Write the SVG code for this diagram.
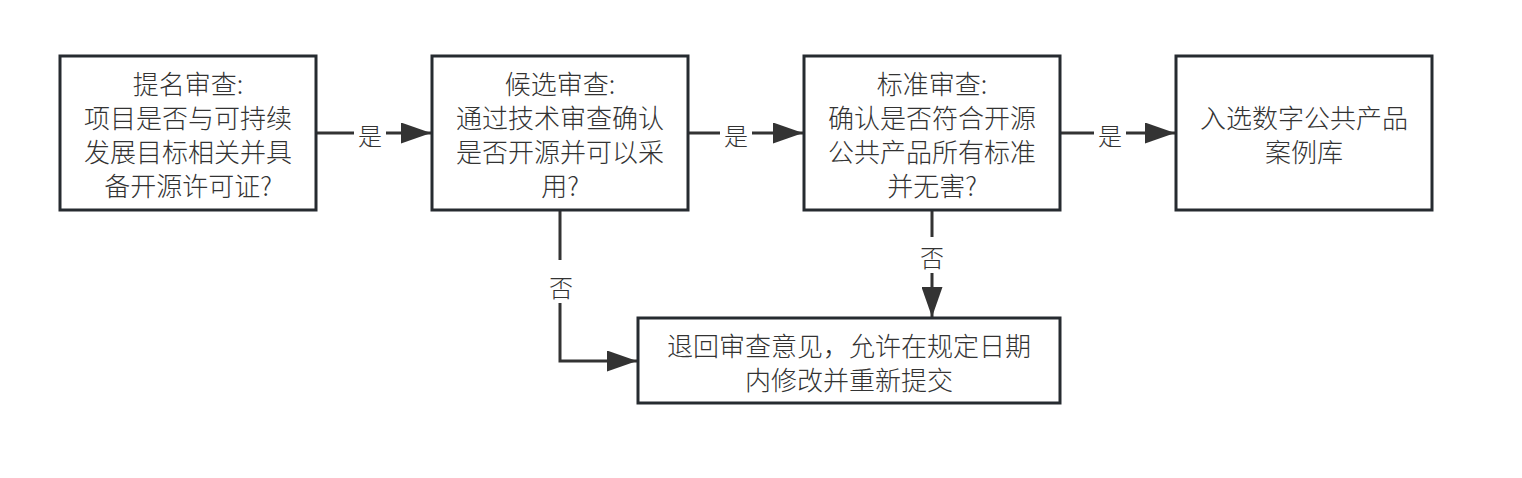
<svg xmlns="http://www.w3.org/2000/svg" width="1522" height="478" viewBox="0 0 1522 478">
<style>
.box{fill:#fff;stroke:#262b30;stroke-width:3}
.t{font-family:"Noto Sans CJK SC","Noto Sans",sans-serif;font-size:26px;font-weight:300;fill:#333;text-anchor:middle;dominant-baseline:central}
.lbl{font-family:"Noto Sans CJK SC","Noto Sans",sans-serif;font-size:24px;font-weight:300;fill:#333;text-anchor:middle;dominant-baseline:central}
.ln{fill:none;stroke:#333;stroke-width:3}
</style>
<defs>
<marker id="ah" markerWidth="10" markerHeight="7" refX="10" refY="3.5" orient="auto" markerUnits="strokeWidth" viewBox="0 0 10 7"><path d="M0,0 L10,3.5 L0,7 z" fill="#333"/></marker>
</defs>
<rect width="1522" height="478" fill="#fff"/>
<g id="connectors">
<path class="ln" d="M317,133 H354 M386,133 H431" marker-end="url(#ah)"/>
<text class="lbl" x="370" y="134">是</text>
<path class="ln" d="M689,133 H720 M752,133 H803" marker-end="url(#ah)"/>
<text class="lbl" x="736" y="134">是</text>
<path class="ln" d="M1061,133 H1094 M1126,133 H1175" marker-end="url(#ah)"/>
<text class="lbl" x="1110" y="134">是</text>
<path class="ln" d="M932,211 V237 M932,273 V317" marker-end="url(#ah)"/>
<text class="lbl" x="932" y="256">否</text>
<path class="ln" d="M560,211 V260 M560,303 V361 H637" marker-end="url(#ah)"/>
<text class="lbl" x="561" y="286">否</text>
</g>
<g id="n1">
<rect class="box" x="60" y="56" width="256" height="154"/>
<text class="t" x="188" y="82">提名审查:</text>
<text class="t" x="188" y="116">项目是否与可持续</text>
<text class="t" x="188" y="150">发展目标相关并具</text>
<text class="t" x="188" y="184">备开源许可证?</text>
</g>
<g id="n2">
<rect class="box" x="432" y="56" width="256" height="154"/>
<text class="t" x="560" y="82">候选审查:</text>
<text class="t" x="560" y="116">通过技术审查确认</text>
<text class="t" x="560" y="150">是否开源并可以采</text>
<text class="t" x="560" y="184">用?</text>
</g>
<g id="n3">
<rect class="box" x="804" y="56" width="256" height="154"/>
<text class="t" x="932" y="82">标准审查:</text>
<text class="t" x="932" y="116">确认是否符合开源</text>
<text class="t" x="932" y="150">公共产品所有标准</text>
<text class="t" x="932" y="184">并无害?</text>
</g>
<g id="n4">
<rect class="box" x="1176" y="56" width="256" height="154"/>
<text class="t" x="1304" y="116">入选数字公共产品</text>
<text class="t" x="1304" y="150">案例库</text>
</g>
<g id="n5">
<rect class="box" x="638" y="318" width="422" height="85"/>
<text class="t" x="849" y="344">退回审查意见，允许在规定日期</text>
<text class="t" x="849" y="378">内修改并重新提交</text>
</g>
</svg>
